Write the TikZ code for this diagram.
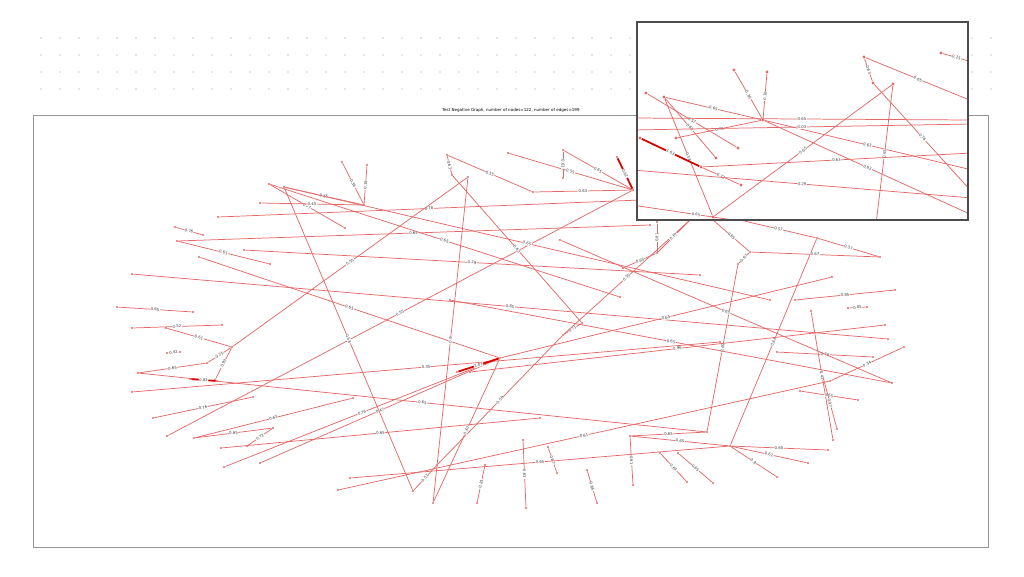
\documentclass[tikz,border=0pt]{standalone}
\usepackage{fontspec}
\setmainfont{DejaVu Sans}
\definecolor{edgered}{RGB}{228,104,104}
\definecolor{framegray}{RGB}{150,150,150}
\tikzset{
  vert/.style={circle,fill=edgered,inner sep=0pt,minimum size=1.3pt},
  edge/.style={draw=edgered,line width=0.42pt},
  hot/.style={draw=red!85!black,line width=1pt},
  wlab/.style={sloped,midway,fill=white,inner sep=0.25pt,text=black!75,font=\fontsize{2.2}{2.5}\selectfont},
}

\begin{document}
\begin{tikzpicture}[x=0.02cm,y=-0.02cm]
    \useasboundingbox (0,0) rectangle (1024,576);
    % dotted grid behind the inset
    \foreach \r in {38,55,72,89}
        \foreach \c in {0,...,50}
            \fill[gray!40] ({41+19*\c},\r) circle (0.55pt);

    \draw[framegray,line width=0.5pt] (33,115) rectangle (988,547);
    \node[anchor=south,inner sep=0.5pt,font=\fontsize{2.3}{2.7}\selectfont] (title) at (511,114)
        {Test Negative Graph, number of nodes=122, number of edges=199};

    % graph nodes
    \foreach \n/\x/\y in {v1/284/187, v2/364/205, v3/342/162, v4/367/165, v5/269/184, v6/345/228,
        v7/260/203, v8/218/217, v9/175/227, v10/203/235, v11/177/241, v12/270/264, v13/199/257,
        v14/132/274, v15/117/307, v16/193/312, v17/132/328, v18/222/325, v19/166/328, v20/232/347,
        v21/207/363, v22/215/380, v23/167/353, v24/180/352, v25/138/373, v27/132/392, v28/190/379,
        v29/217/381, v30/153/418, v31/253/397, v32/167/436, v33/194/438, v34/353/398, v35/273/428,
        v36/247/446, v37/221/448, v38/540/418, v39/224/467, v40/500/358, v41/260/463, v42/338/490,
        v43/413/491, v44/437/465, v45/433/503, v46/563/335, v47/582/323, v48/447/155, v49/452/175,
        v50/508/153, v51/563/150, v52/563/178, v53/617/157, v54/633/190, v55/533/192, v56/468/177,
        v57/640/200, v58/650/225, v59/244/250, v60/700/275, v61/770/300, v62/620/297, v63/888/339,
        v64/707/432, v65/630/436, v66/633/485, v67/730/446, v68/777/477, v69/808/463, v70/828/450,
        v71/817/238, v72/880/257, v73/740/220, v74/750/252, v75/713/220, v76/738/264, v77/832/277,
        v79/895/290, v80/795/300, v81/867/307, v82/848/308, v83/885/325, v84/470/372, v85/811/311,
        v86/833/440, v87/873/357, v88/777/352, v89/904/347, v90/830/381, v91/892/383, v92/560/240,
        v93/450/300, v94/858/400, v95/800/391, v96/837/429, v97/823/377, v98/523/440, v99/526/508,
        v100/548/447, v101/557/473, v102/485/465, v103/477/503, v104/587/470, v105/597/503,
        v106/660/453, v107/687/482, v108/678/453, v109/713/483, v110/657/253, v111/657/222,
        v112/690/220, v113/623/268, v114/720/342, v115/457/372, v118/350/478}
        \node[vert] (\n) at (\x,\y) {};

    % weighted edges
    \foreach \u/\v/\w in {v1/v2/0.65, v3/v2/0.36, v4/v2/0.18, v5/v6/0.57, v7/v2/0.45, v8/v57/0.78,
        v9/v10/0.76, v11/v12/0.61, v11/v58/0.65, v13/v40/0.65, v14/v63/0.85, v15/v16/0.65,
        v17/v18/0.52, v19/v20/0.61, v20/v56/0.55, v20/v21/0.25, v20/v22/0.93, v23/v24/0.42,
        v25/v21/0.65, v25/v64/0.65, v27/v114/0.35, v30/v31/0.76, v32/v54/0.55, v33/v34/0.65,
        v33/v35/0.65, v35/v36/0.72, v37/v38/0.65, v39/v40/0.76, v41/v40/0.47, v42/v90/0.61,
        v43/v1/0.58, v43/v44/0.51, v44/v46/0.59, v45/v40/0.67, v45/v56/0.9, v46/v47/0.71,
        v47/v49/0.63, v48/v49/0.63, v48/v55/0.55, v55/v54/0.63, v50/v54/0.55, v51/v52/0.63,
        v51/v54/0.65, v1/v61/0.65, v59/v60/0.29, v5/v62/0.65, v46/v112/0.55, v110/v111/0.81,
        v110/v112/0.67, v110/v113/0.65, v65/v64/0.65, v65/v66/0.61, v65/v67/0.65, v64/v76/0.69,
        v67/v71/0.66, v67/v68/0.8, v67/v69/0.62, v67/v70/0.65, v71/v72/0.57, v71/v73/0.57,
        v74/v72/0.67, v74/v75/0.65, v76/v74/0.67, v77/v40/0.65, v79/v80/0.85, v81/v82/0.85,
        v83/v84/0.96, v85/v86/0.43, v87/v88/0.28, v89/v90/0.34, v91/v92/0.65, v91/v93/0.65,
        v94/v95/0.65, v96/v97/0.97, v98/v99/0.61, v100/v101/0.67, v102/v103/0.81, v104/v105/0.66,
        v106/v107/0.63, v108/v109/0.65, v118/v67/0.65}
        \draw[edge] (\u) -- node[wlab]{\w} (\v);
    \draw[hot] (v28) -- node[wlab]{0.83} (v29);
    \draw[hot] (v53) -- node[wlab]{0.62} (v54);
    \draw[hot] (v115) -- node[wlab]{1.03} (v40);

    % magnified inset
    \fill[white] (637,22) rectangle (968,220);
    \begin{scope}
        \clip (637,22) rectangle (968,220);
        \foreach \n/\x/\y in {i1/664/97, i2/646/93, i3/738/148, i4/763/120, i5/734/70, i6/767/72,
            i7/676/138, i8/713/217, i9/864/57, i10/873/83, i11/972/101, i12/941/53, i13/972/62,
            i14/893/84, i15/876/224, i16/972/192, i17/701/167, i18/741/185, i19/640/138,
            i20/972/153, i21/632/118, i22/972/120, i23/632/130, i24/972/124, i25/716/158,
            i26/972/215, i27/972/170, i28/632/170, i29/972/198, i30/632/205, i31/760/224}
            \node[vert,minimum size=1.8pt] (\n) at (\x,\y) {};
        \foreach \u/\v/\w in {i2/i3/0.57, i1/i4/0.65, i1/i8/0.38, i1/i25/0.65, i5/i4/0.36,
            i6/i4/0.18, i7/i4/0.48, i4/i26/0.63, i4/i27/0.63, i9/i10/0.63, i9/i11/0.65,
            i12/i13/0.25, i10/i16/0.76, i14/i15/0.63, i8/i14/0.65, i17/i18/0.72, i17/i20/0.63,
            i21/i22/0.65, i23/i24/0.03, i28/i29/0.29, i30/i31/0.65}
            \draw[edge] (\u) -- node[wlab]{\w} (\v);
        \draw[hot] (i19) -- node[wlab]{1.03} (i17);
    \end{scope}
    \draw[black!70,line width=0.8pt] (637,22) rectangle (968,220);
\end{tikzpicture}
\end{document}
